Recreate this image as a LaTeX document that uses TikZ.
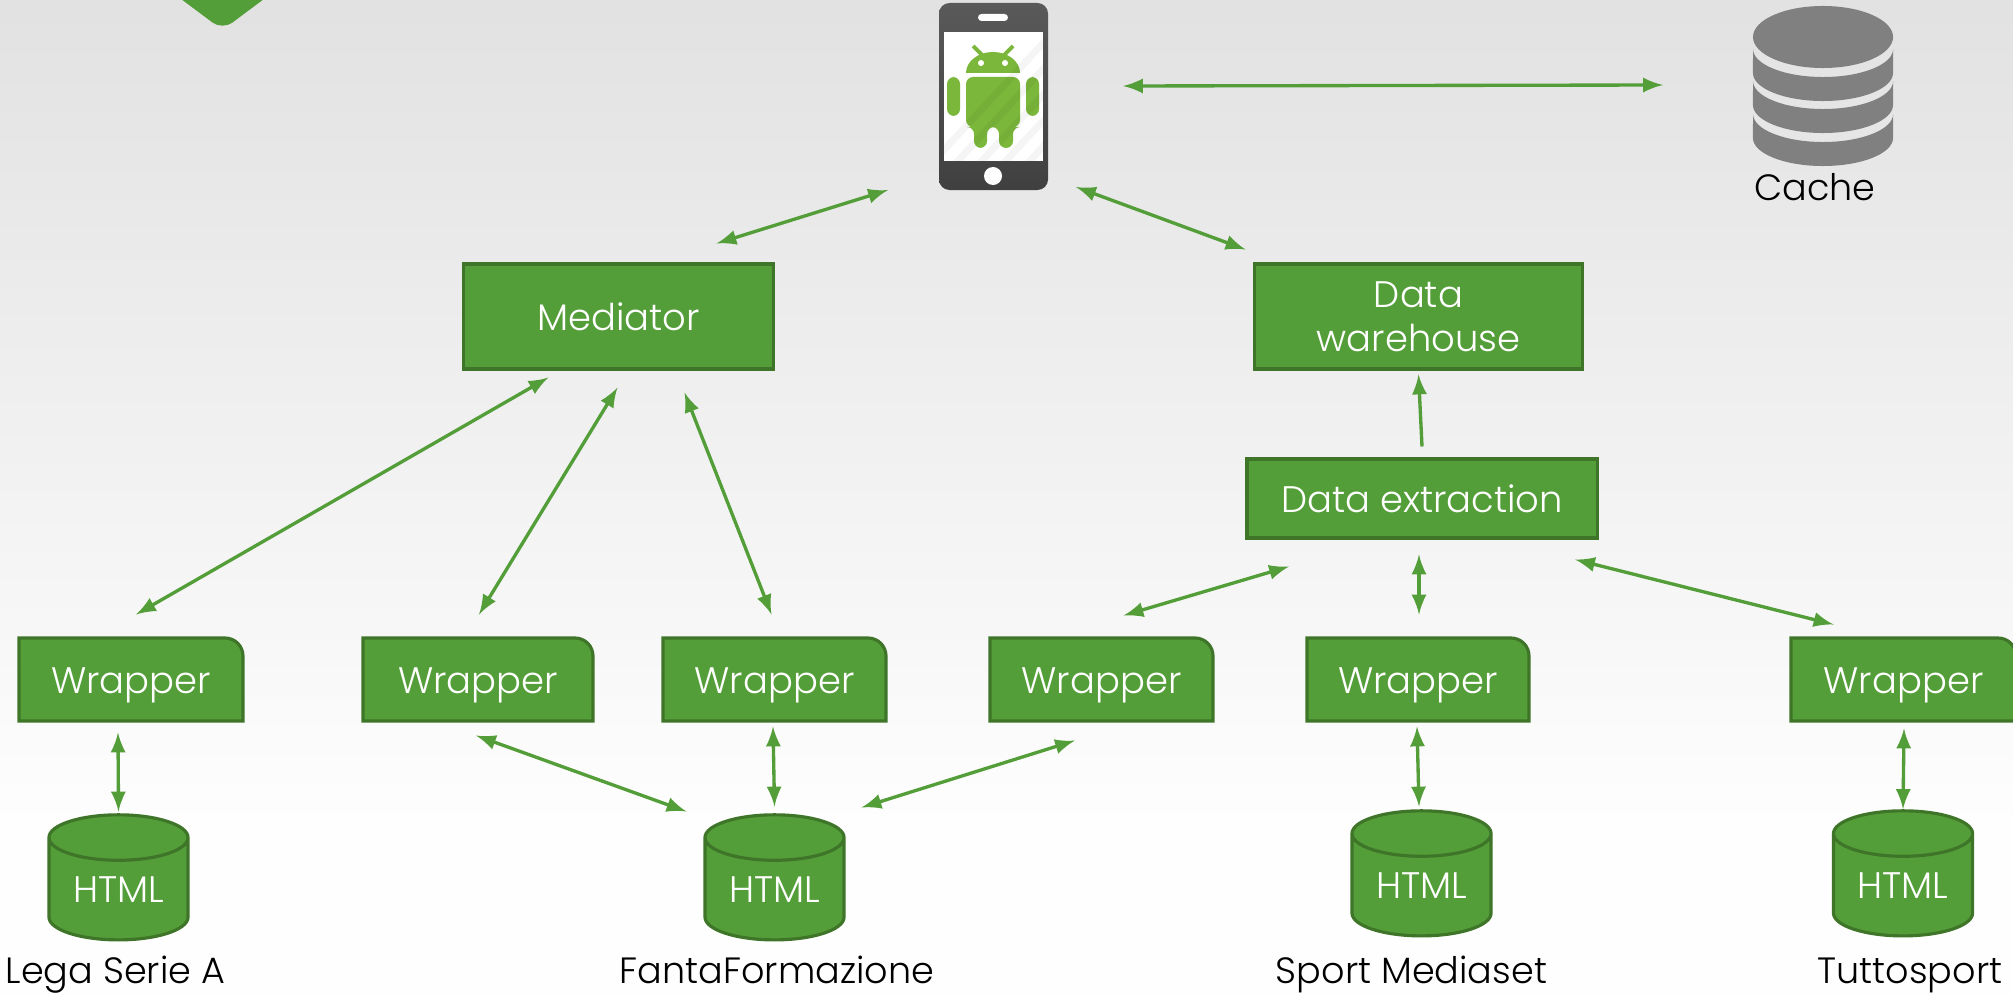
\documentclass[tikz,border=0pt]{standalone}
\usepackage{fontspec}
\setmainfont{Poppins Light}
\usetikzlibrary{shapes.geometric}
\definecolor{leaf}{HTML}{549E39}
\definecolor{leafdark}{HTML}{3E7529}
\definecolor{droid}{HTML}{7AB73B}
\definecolor{cachegray}{HTML}{808080}
\tikzset{
  boxnode/.style={rectangle,fill=leaf,draw=leafdark,line width=0.9pt,text=white,align=center,font=\fontsize{10.5}{12.4}\selectfont,inner sep=0pt},
  dbnode/.style={cylinder,shape border rotate=90,aspect=0.5,cylinder uses custom fill,cylinder body fill=leaf,cylinder end fill=leaf,draw=leafdark,line width=0.9pt,text=white,font=\fontsize{10.5}{12}\selectfont,minimum width=1.39cm,minimum height=1.25cm,inner sep=0pt},
  sitelabel/.style={font=\fontsize{10.4}{12}\selectfont,text=black,inner sep=0pt,anchor=base},
  link/.style={latex-latex,draw=leaf,line width=0.95pt},
}
% wrapper: name, left, top, width
\newcommand{\wrapperbox}[4]{%
\draw[fill=leaf,draw=leafdark,line width=0.9pt](#2,#3)--(#2+#4-18,#3)to[out=0,in=90](#2+#4,#3+18)--(#2+#4,#3+83)--(#2,#3+83)--cycle;
\node[text=white,font=\fontsize{10.5}{12}\selectfont,inner sep=0pt,text height=10.2pt,text depth=2pt](#1)at(#2+#4/2,#3+41.5){Wrapper};
}
\begin{document}
\begin{tikzpicture}[x=0.01cm,y=-0.01cm]
\useasboundingbox(0,0)rectangle(2013,994);
\clip(0,0)rectangle(2013,994);
\shade[top color=black!11.5,bottom color=black!0.5](0,0)rectangle(2013,820);
\fill[black!0.5](0,820)rectangle(2013,994);
% corner of the logo
\fill[leaf,rounded corners=3.5pt](169,-10)--(222.5,30)--(276,-10)--cycle;
% phone
\node[minimum width=1.09cm,minimum height=1.87cm,inner sep=0pt](phone)at(993,96){};
\shade[top color=black!65,bottom color=black!75,rounded corners=3pt](939,3)rectangle(1048,190);
\fill[white](944,32)rectangle(1043,161);
\fill[white,rounded corners=1pt](978,14)rectangle(1008,21);
\fill[white](993,176)circle(0.09cm);
\fill[droid](966,73)arc(180:0:0.27cm and 0.21cm)--cycle;
\fill[droid,rounded corners=2pt](966,77)--(1020,77)--(1020,127)--(1013,127)--(1013,148)--(999,148)--(999,127)--(987,127)--(987,148)--(974,148)--(974,127)--(966,127)--cycle;
\fill[droid,rounded corners=2pt](947,77)rectangle(960,116);
\fill[droid,rounded corners=2pt](1026,77)rectangle(1039,116);
\draw[droid,line width=1.1pt](973,46)--(983,56);
\draw[droid,line width=1.1pt](1013,46)--(1003,56);
\fill[white](981,63)circle(0.03cm);
\fill[white](1005,63)circle(0.03cm);
\begin{scope}
\clip(944,32)rectangle(1043,161);
\foreach \k in {0,...,7}
  \draw[black,opacity=0.04,line width=2pt](930+\k*24,165)--(930+\k*24+130,25);
\end{scope}
% cache
\node[minimum width=1.4cm,minimum height=1.6cm,inner sep=0pt](cache)at(1823,86){};
\fill[cachegray](1823,37)ellipse(0.7cm and 0.31cm);
\foreach \y in {49,81,114}
  \fill[cachegray](1753,\y)arc(180:360:0.7cm and 0.28cm)--(1893,\y+24)arc(0:-180:0.7cm and 0.28cm)--cycle;
\node[sitelabel](cachetext)at(1815,200){Cache};
% boxes
\node[boxnode,minimum width=3.10cm,minimum height=1.05cm](mediator)at(618.5,316.5){Mediator};
\node[boxnode,minimum width=3.28cm,minimum height=1.05cm](warehouse)at(1418.5,316.5){Data\\warehouse};
\node[boxnode,minimum width=3.50cm,minimum height=0.79cm](extraction)at(1422,498.5){Data extraction};
\wrapperbox{wrapA}{19}{638}{224}
\wrapperbox{wrapB}{363}{638}{230}
\wrapperbox{wrapC}{663}{638}{223}
\wrapperbox{wrapD}{990}{638}{223}
\wrapperbox{wrapE}{1307}{638}{222}
\wrapperbox{wrapF}{1791}{638}{225}
\node[dbnode](htmlA)at(118.5,889.5){HTML};
\node[dbnode](htmlB)at(774.5,889.5){HTML};
\node[dbnode](htmlC)at(1421.5,885.5){HTML};
\node[dbnode](htmlD)at(1903,885.5){HTML};
\node[sitelabel](siteA)at(115.5,983){Lega Serie A};
\node[sitelabel](siteB)at(777,983){FantaFormazione};
\node[sitelabel](siteC)at(1411.5,983){Sport Mediaset};
\node[sitelabel](siteD)at(1910,983){Tuttosport};
% connectors
\draw[link]([shift={(130,-10)}]phone.center)--([shift={(-160,-1)}]cache.center);
\draw[link]([shift={(-105,94)}]phone.center)--([shift={(98,-73)}]mediator.center);
\draw[link]([shift={(83,91)}]phone.center)--([shift={(-173,-67)}]warehouse.center);
\draw[link]([shift={(-70,61)}]mediator.center)--([shift={(5,-65)}]wrapA.center);
\draw[link]([shift={(-1,71)}]mediator.center)--([shift={(1,-65)}]wrapB.center);
\draw[link]([shift={(66,76)}]mediator.center)--([shift={(-3,-65)}]wrapC.center);
\draw[-latex,draw=leaf,line width=0.95pt]([shift={(0,-52)}]extraction.center)--([shift={(0,58)}]warehouse.center);
\draw[link]([shift={(-133,68)}]extraction.center)--([shift={(22,-64)}]wrapD.center);
\draw[link]([shift={(-3,56)}]extraction.center)--([shift={(1,-65)}]wrapE.center);
\draw[link]([shift={(153,61)}]extraction.center)--([shift={(-70,-55)}]wrapF.center);
\draw[link]([shift={(-13,53)}]wrapA.center)--([shift={(0,-78)}]htmlA.center);
\draw[link]([shift={(-2,56)}]wrapB.center)--([shift={(-88,-78)}]htmlB.center);
\draw[link]([shift={(-1.5,47)}]wrapC.center)--([shift={(0,-83)}]htmlB.center);
\draw[link]([shift={(-26.5,61)}]wrapD.center)--([shift={(87,-82)}]htmlB.center);
\draw[link]([shift={(-1,47)}]wrapE.center)--([shift={(-2.5,-79)}]htmlC.center);
\draw[link]([shift={(0.5,49)}]wrapF.center)--([shift={(0,-76.5)}]htmlD.center);
\end{tikzpicture}
\end{document}
